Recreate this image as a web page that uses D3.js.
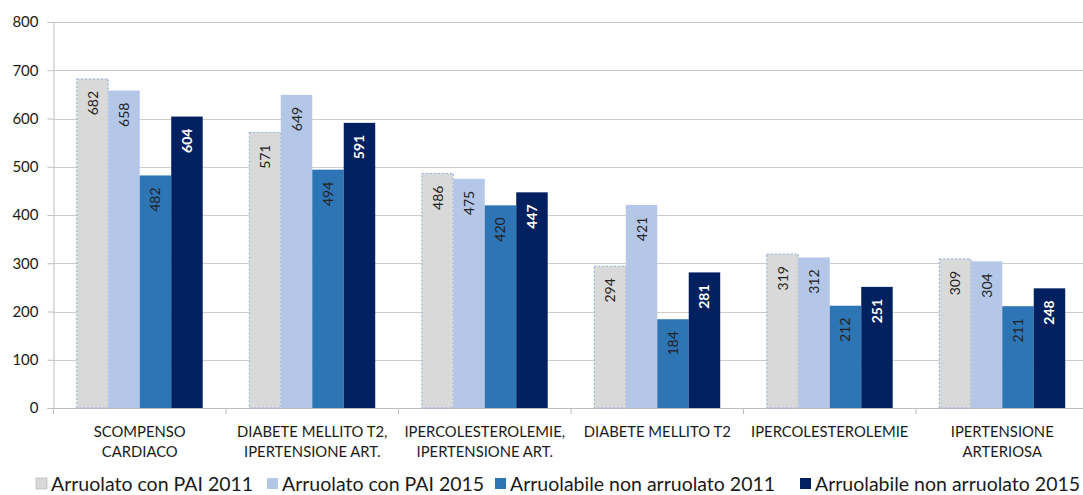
<!DOCTYPE html>
<html>
<head>
<meta charset="utf-8">
<script src="https://cdn.jsdelivr.net/npm/d3@7"></script>
<style>
  html, body { margin: 0; padding: 0; background: #fff; }
  svg { display: block; }
  text { font-family: Lato, "Noto Sans", sans-serif; }
</style>
</head>
<body>
<svg id="chart" width="1083" height="495"></svg>
<script>
// Categories (each may span two lines)
const categories = [
  ["SCOMPENSO", "CARDIACO"],
  ["DIABETE MELLITO T2,", "IPERTENSIONE ART."],
  ["IPERCOLESTEROLEMIE,", "IPERTENSIONE ART."],
  ["DIABETE MELLITO T2"],
  ["IPERCOLESTEROLEMIE"],
  ["IPERTENSIONE", "ARTERIOSA"]
];
const seriesNames = [
  "Arruolato con PAI 2011",
  "Arruolato con PAI 2015",
  "Arruolabile non arruolato 2011",
  "Arruolabile non arruolato 2015"
];
const pai2011 = [682, 571, 486, 294, 319, 309];
const pai2015 = [658, 649, 475, 421, 312, 304];
const nonArr2011 = [482, 494, 420, 184, 212, 211];
const nonArr2015 = [604, 591, 447, 281, 251, 248];
const yTicks = [0, 100, 200, 300, 400, 500, 600, 700, 800];

const seriesValues = [pai2011, pai2015, nonArr2011, nonArr2015];
const colors = ["#d9d9d9", "#b4c7e7", "#2e75b6", "#002060"];
const labelColors = ["#222", "#222", "#222", "#fff"];

const svg = d3.select("#chart");
const plotLeft = 53.5, plotRight = 1088.5, plotTop = 22, plotBottom = 408;

const x0 = d3.scaleBand().domain(d3.range(categories.length)).range([plotLeft, plotRight]).padding(0);
const x1 = d3.scaleBand().domain(d3.range(seriesNames.length))
  .range([x0.bandwidth() * 0.135, x0.bandwidth() * 0.865]).padding(0);
const y = d3.scaleLinear().domain([0, 800]).range([plotBottom, plotTop]);

// Horizontal gridlines
svg.append("g").selectAll("line").data(yTicks.filter(d => d > 0)).join("line")
  .attr("x1", plotLeft).attr("x2", 1083)
  .attr("y1", d => Math.round(y(d)) + 0.5).attr("y2", d => Math.round(y(d)) + 0.5)
  .attr("stroke", "#cdcdcd").attr("stroke-width", 1);

// Y axis
const yAxis = svg.append("g").attr("transform", `translate(${plotLeft},0)`)
  .call(d3.axisLeft(y).tickValues(yTicks).tickSize(6).tickPadding(9));
yAxis.select(".domain").attr("stroke", "#bdbdbd");
yAxis.selectAll(".tick line").attr("stroke", "#bdbdbd");
yAxis.selectAll(".tick text").attr("font-size", 15).attr("fill", "#1a1a1a")
  .style("font-family", "Lato, 'Noto Sans', sans-serif");

// X axis line with category boundary ticks
const xAxisG = svg.append("g");
xAxisG.append("line").attr("x1", plotLeft).attr("x2", 1083)
  .attr("y1", plotBottom + 0.5).attr("y2", plotBottom + 0.5).attr("stroke", "#bdbdbd");
xAxisG.selectAll("line.tk").data(d3.range(categories.length + 1)).join("line")
  .attr("class", "tk")
  .attr("x1", i => plotLeft + i * x0.step()).attr("x2", i => plotLeft + i * x0.step())
  .attr("y1", plotBottom).attr("y2", plotBottom + 6).attr("stroke", "#bdbdbd");

// Category labels
const catLabels = svg.append("g").selectAll("text").data(categories).join("text")
  .attr("x", (d, i) => x0(i) + x0.bandwidth() / 2)
  .attr("y", 437)
  .attr("text-anchor", "middle")
  .attr("font-size", 14.8)
  .attr("fill", "#1a1a1a");
catLabels.selectAll("tspan").data(d => d).join("tspan")
  .attr("x", function () { return d3.select(this.parentNode).attr("x"); })
  .attr("dy", (d, i) => i === 0 ? 0 : 20)
  .text(d => d);

// Bars with rotated value labels
const groups = svg.append("g").selectAll("g").data(categories).join("g")
  .attr("transform", (d, i) => `translate(${x0(i)},0)`);

groups.each(function (c, ci) {
  const g = d3.select(this);
  seriesValues.forEach((vals, si) => {
    const v = vals[ci];
    const rect = g.append("rect")
      .attr("x", x1(si)).attr("width", x1.bandwidth())
      .attr("y", y(v)).attr("height", y(0) - y(v))
      .attr("fill", colors[si]);
    if (si === 0) {
      rect.attr("stroke", "#8faadc").attr("stroke-dasharray", "2,2").attr("stroke-width", 1);
    }
    const cx = x1(si) + x1.bandwidth() / 2;
    const ty = y(v) + 12;
    g.append("text")
      .attr("transform", `translate(${cx + 5},${ty}) rotate(-90)`)
      .attr("text-anchor", "end")
      .attr("font-size", 14)
      .attr("font-weight", si === 3 ? "bold" : "normal")
      .attr("fill", labelColors[si])
      .text(v);
  });
});

// Legend
const legendX = [36, 267, 495, 800];
const legend = svg.append("g").selectAll("g").data(seriesNames).join("g")
  .attr("transform", (d, i) => `translate(${legendX[i]},484)`);
legend.append("rect").attr("x", 0).attr("y", -6).attr("width", 11).attr("height", 11)
  .attr("fill", (d, i) => colors[i])
  .attr("stroke", (d, i) => i === 0 ? "#b0b0b0" : "none")
  .attr("stroke-width", 0.6);
legend.append("text").attr("x", 15).attr("y", 6.5)
  .attr("font-size", 19.5).attr("fill", "#1a1a1a")
  .text(d => d);
</script>
</body>
</html>
